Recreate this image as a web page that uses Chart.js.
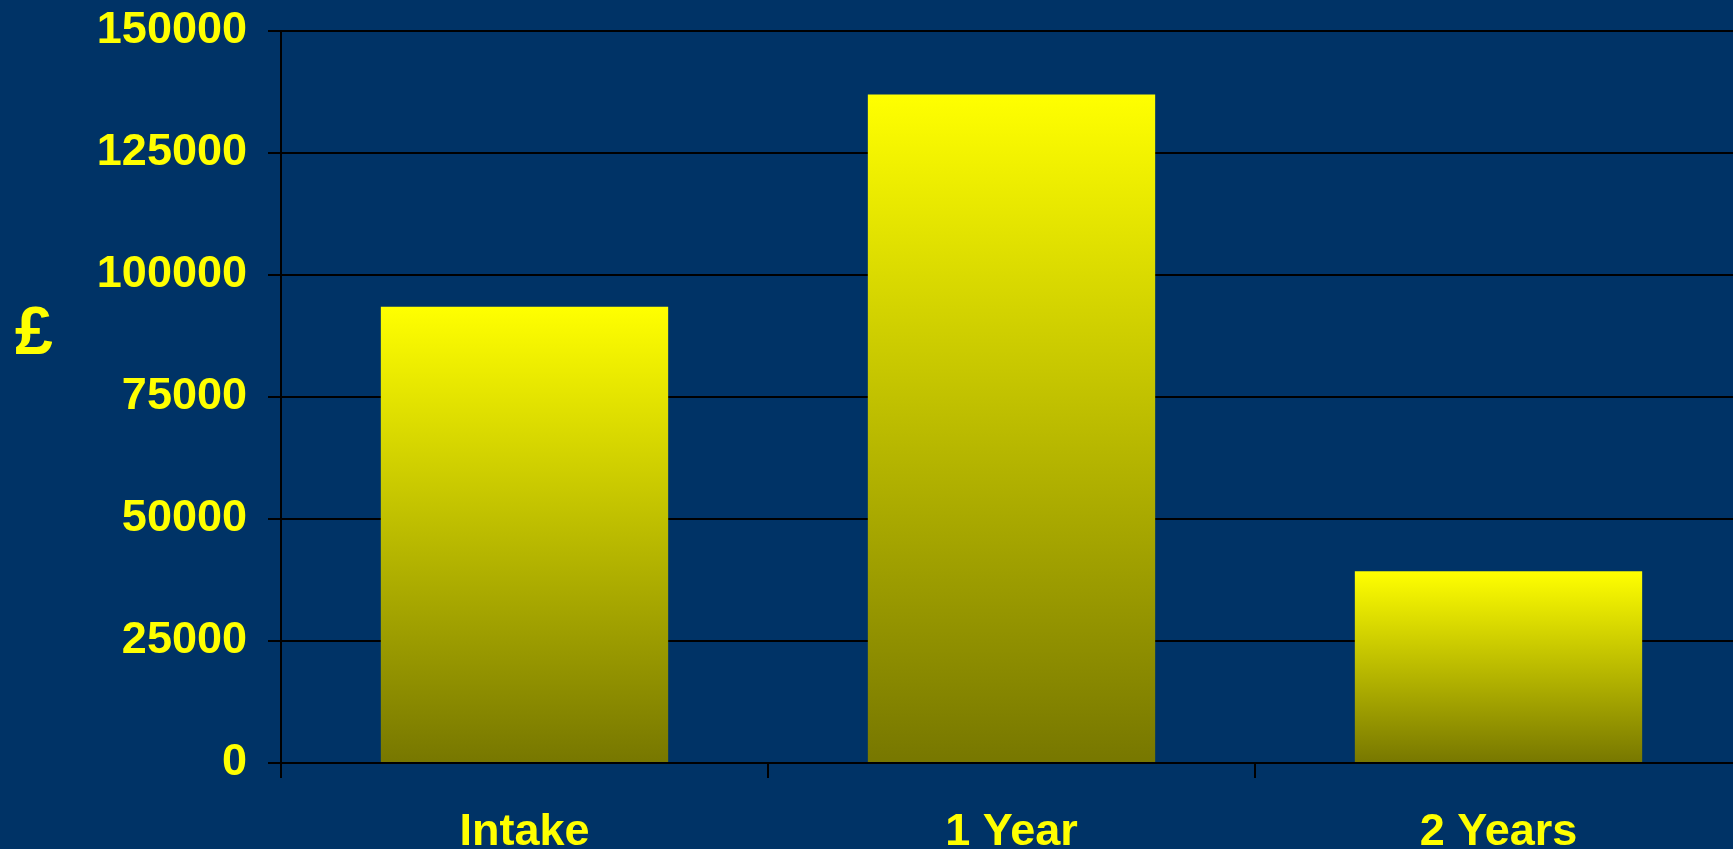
<!DOCTYPE html>
<html>
<head>
<meta charset="utf-8">
<script src="https://cdn.jsdelivr.net/npm/chart.js@4/dist/chart.umd.min.js"></script>
<style>
  html, body { margin: 0; padding: 0; background: #003366; overflow: hidden; }
  #wrap { position: relative; width: 1742px; height: 849px; }
</style>
</head>
<body>
<div id="wrap"><canvas id="chart"></canvas></div>
<script>
// categories and values
var categories = ["Intake", "1 Year", "2 Years"];
var costs = [93500, 137000, 39300];
var yTicks = [0, 25000, 50000, 75000, 100000, 125000, 150000];
var yTitle = "£";

var labelFont = { family: "'Liberation Sans', Arial, sans-serif", size: 45, weight: "bold" };

// each bar gets its own gradient, yellow on top to olive at the base
function barGradient(context) {
  var chart = context.chart;
  if (!chart.chartArea) return "#ffff00";
  var y = chart.scales.y;
  var top = y.getPixelForValue(context.raw);
  var base = y.getPixelForValue(0);
  var g = chart.ctx.createLinearGradient(0, top, 0, base);
  g.addColorStop(0, "#ffff00");
  g.addColorStop(1, "#777700");
  return g;
}

const ctx = document.getElementById("chart");

var myChart = new Chart(ctx, {
  type: "bar",
  data: {
    labels: categories,
    datasets: [
      {
        label: "£",
        data: costs,
        backgroundColor: barGradient,
        borderWidth: 0,
        barPercentage: 0.59,
        categoryPercentage: 1,
      },
    ],
  },
  options: {
    responsive: true,
    maintainAspectRatio: false,
    animation: false,
    layout: { padding: { top: 31, left: 0, right: 0, bottom: 0 } },
    plugins: {
      legend: { display: false },
      tooltip: { enabled: false },
    },
    scales: {
      x: {
        grid: {
          display: true,
          drawOnChartArea: false,
          drawTicks: true,
          tickLength: 15,
          color: "#000",
          lineWidth: 2,
          offset: true,
        },
        border: { color: "#000", width: 2 },
        ticks: { color: "#ffff00", font: labelFont, padding: 28, maxRotation: 0 },
        afterFit: function (axis) {
          axis.height = 86;
        },
      },
      y: {
        min: 0,
        max: 150000,
        afterBuildTicks: function (axis) {
          axis.ticks = yTicks.map(function (v) { return { value: v }; });
        },
        grid: { color: "#000", lineWidth: 2, tickLength: 13 },
        border: { color: "#000", width: 2 },
        ticks: {
          color: "#ffff00",
          font: labelFont,
          padding: 21,
          callback: function (value) {
            return String(value);
          },
        },
        afterFit: function (axis) {
          axis.width = 281;
          // let the layout padding set the top edge of the plot
          axis.paddingTop = 0;
          axis.paddingBottom = 0;
        },
      },
    },
  },
  plugins: [
    {
      id: "poundTitle",
      afterDraw: function (chart) {
        var c = chart.ctx;
        c.save();
        c.fillStyle = "#ffff00";
        c.font = "bold 68px 'Liberation Sans', Arial, sans-serif";
        c.textAlign = "center";
        c.textBaseline = "middle";
        c.fillText(yTitle, 34, 335);
        c.restore();
      },
    },
  ],
});
</script>
</body>
</html>
